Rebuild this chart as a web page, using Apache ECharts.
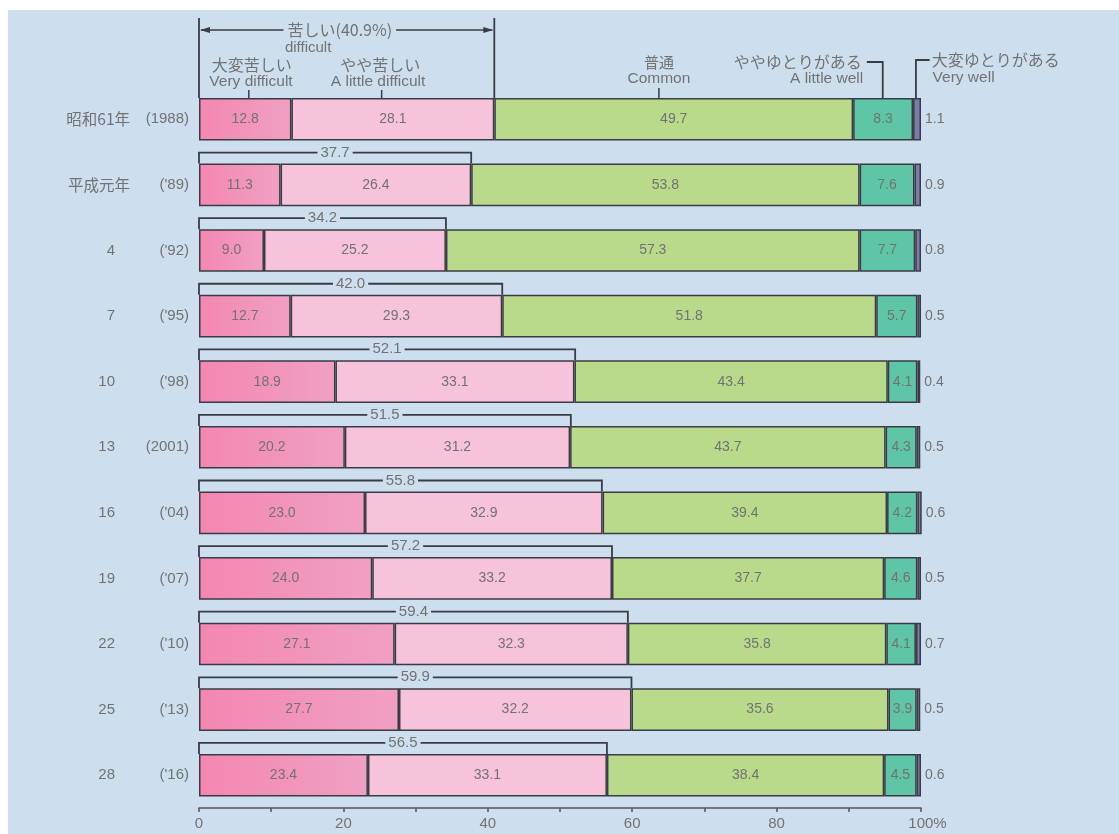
<!DOCTYPE html>
<html>
<head>
<meta charset="utf-8">
<script src="https://cdn.jsdelivr.net/npm/echarts/dist/echarts.min.js"></script>
<style>
html,body{margin:0;padding:0;background:#ffffff;}
#chart{width:1119px;height:834px;}
</style>
</head>
<body>
<div id="chart"></div>
<script>
// ---- data ----
const eraLabels = ['昭和61年','平成元年','4','7','10','13','16','19','22','25','28'];
const yearLabels = ['(1988)',"('89)","('92)","('95)","('98)",'(2001)',"('04)","('07)","('10)","('13)","('16)"];
const veryDifficult   = [12.8, 11.3, 9.0, 12.7, 18.9, 20.2, 23.0, 24.0, 27.1, 27.7, 23.4];
const littleDifficult = [28.1, 26.4, 25.2, 29.3, 33.1, 31.2, 32.9, 33.2, 32.3, 32.2, 33.1];
const common          = [49.7, 53.8, 57.3, 51.8, 43.4, 43.7, 39.4, 37.7, 35.8, 35.6, 38.4];
const littleWell      = [8.3, 7.6, 7.7, 5.7, 4.1, 4.3, 4.2, 4.6, 4.1, 3.9, 4.5];
const veryWell        = [1.1, 0.9, 0.8, 0.5, 0.4, 0.5, 0.6, 0.5, 0.7, 0.5, 0.6];
const difficultTotal  = [40.9, 37.7, 34.2, 42.0, 52.1, 51.5, 55.8, 57.2, 59.4, 59.9, 56.5];
const xTicks = [0, 20, 40, 60, 80, 100];

// ---- styles ----
const BG = '#cddfee';
const LINE = '#3b3b45';
const TXT = '#727272';
const NUMFONT = "'Liberation Sans Narrow','Liberation Sans',Arial,sans-serif";
const CJK = "'Noto Sans CJK JP','Noto Sans',sans-serif";
const ENFONT = "'Liberation Sans',Arial,sans-serif";

const chart = echarts.init(document.getElementById('chart'), null, {renderer:'canvas'});

function barSeries(name, data, color, labelPos) {
  return {
    name: name, type: 'bar', stack: 'all', data: data,
    barCategoryGap: '35%',
    itemStyle: {color: color, borderColor: LINE, borderWidth: 1.5},
    label: {
      show: true, position: labelPos || 'inside',
      distance: 4,
      formatter: p => Number(p.value).toFixed(1),
      color: TXT, fontSize: 14, fontFamily: NUMFONT
    },
    emphasis: {disabled: true},
    z: 2
  };
}

function txt(text, x, y, opt) {
  return {
    type: 'text',
    style: Object.assign({
      text: text, x: x, y: y, fill: TXT,
      fontSize: 15, fontFamily: ENFONT,
      align: 'center', verticalAlign: 'middle'
    }, opt || {})
  };
}
function line(points, w) {
  return {type: 'polyline', shape: {points: points},
          style: {stroke: LINE, lineWidth: w || 1.5, fill: null}};
}

function renderBracket(params, api) {
  const i = api.value(0);
  const total = api.value(1);
  const p0 = api.coord([0, i]);
  const p1 = api.coord([total, i]);
  const bandH = api.size([0, 1])[1];
  const barH = bandH * 0.65;
  const top = p0[1] - barH / 2;
  const children = [];
  if (i > 0) {
    const yl = top - 11;
    children.push(line([[p0[0], top], [p0[0], yl], [p1[0], yl], [p1[0], top]], 1.8));
    children.push(txt(Number(total).toFixed(1), (p0[0] + p1[0]) / 2, yl,
      {fontFamily: NUMFONT, fontSize: 15, backgroundColor: BG, padding: [0, 3]}));
    return {type: 'group', children: children};
  }
  // first row: header annotations
  const X = v => api.coord([v, i])[0];
  const t = top;
  const xl = p0[0], xr = p1[0];
  children.push(line([[xl, t - 80], [xl, t]], 1.8));
  children.push(line([[xr, t - 80], [xr, t]], 1.8));
  children.push(line([[xl + 2, t - 68], [xr - 2, t - 68]], 1.5));
  children.push({type: 'polygon', shape: {points: [[xl + 1, t - 68], [xl + 11, t - 71], [xl + 11, t - 65]]},
                 style: {fill: LINE}});
  children.push({type: 'polygon', shape: {points: [[xr - 1, t - 68], [xr - 11, t - 71], [xr - 11, t - 65]]},
                 style: {fill: LINE}});
  children.push(txt('苦しい(' + Number(total).toFixed(1) + '%)', X(19.5), t - 68,
    {fontFamily: CJK, fontSize: 16, backgroundColor: BG, padding: [0, 4]}));
  children.push(txt('difficult', X(11.9), t - 50, {align: 'left', fontSize: 15}));
  // 大変苦しい
  children.push(txt('大変苦しい', X(7.3), t - 33, {fontFamily: CJK, fontSize: 16}));
  children.push(txt('Very difficult', X(7.2), t - 16, {fontSize: 15.5}));
  children.push(line([[X(6.9), t - 8], [X(6.9), t]], 1.5));
  // やや苦しい
  children.push(txt('やや苦しい', X(25.1), t - 33, {fontFamily: CJK, fontSize: 16}));
  children.push(txt('A little difficult', X(24.8), t - 16, {fontSize: 15.5}));
  children.push(line([[X(25.3), t - 8], [X(25.3), t]], 1.5));
  // 普通
  children.push(txt('普通', X(63.7), t - 36, {fontFamily: CJK, fontSize: 15}));
  children.push(txt('Common', X(63.7), t - 19, {fontSize: 15.5}));
  children.push(line([[X(63.7), t - 10], [X(63.7), t]], 1.5));
  // ややゆとりがある
  children.push(txt('ややゆとりがある', X(91.8), t - 36, {fontFamily: CJK, fontSize: 16, align: 'right'}));
  children.push(txt('A little well', X(92.0), t - 19, {fontSize: 15.5, align: 'right'}));
  children.push(line([[X(92.5), t - 36], [X(94.7), t - 36], [X(94.7), t]], 1.8));
  // 大変ゆとりがある
  children.push(txt('大変ゆとりがある', X(101.5), t - 38, {fontFamily: CJK, fontSize: 16, align: 'left'}));
  children.push(txt('Very well', X(101.6), t - 20, {fontSize: 15.5, align: 'left'}));
  children.push(line([[X(101.2), t - 38], [X(99.3), t - 38], [X(99.3), t]], 1.8));
  return {type: 'group', children: children};
}

const option = {
  backgroundColor: '#ffffff',
  animation: false,
  graphic: [{
    type: 'rect', left: 8, top: 10, z: -10, silent: true,
    shape: {width: 1111, height: 824}, style: {fill: BG}
  }],
  grid: {left: 199, right: 198, top: 86.5, bottom: 26, containLabel: false},
  xAxis: {
    type: 'value', min: 0, max: 100, interval: 10,
    axisLine: {show: true, lineStyle: {color: '#555', width: 1.5}},
    axisTick: {show: true, length: 4, lineStyle: {color: '#555', width: 1.5}},
    splitLine: {show: false},
    axisLabel: {
      margin: 8, color: TXT, fontSize: 15, fontFamily: NUMFONT,
      formatter: v => {
        if (xTicks.indexOf(v) < 0) return '';
        return v === 100 ? '{h|100%}' : String(v);
      },
      rich: {h: {padding: [0, 0, 0, 13], fontSize: 15, fontFamily: NUMFONT, color: TXT}}
    }
  },
  yAxis: {
    type: 'category', inverse: true, data: eraLabels,
    axisLine: {show: false}, axisTick: {show: false},
    axisLabel: {
      margin: 10,
      formatter: (v, idx) => {
        const era = eraLabels[idx];
        const isNum = /^\d+$/.test(era);
        return (isNum ? '{n|' + era + '}{y|' : '{e|' + era + '}{w|') + yearLabels[idx] + '}';
      },
      rich: {
        e: {width: 70, align: 'right', fontSize: 15.5, fontFamily: CJK, color: TXT},
        n: {width: 55, align: 'right', fontSize: 15, fontFamily: NUMFONT, color: TXT},
        w: {width: 59, align: 'right', fontSize: 15, fontFamily: NUMFONT, color: TXT},
        y: {width: 74, align: 'right', fontSize: 15, fontFamily: NUMFONT, color: TXT}
      }
    }
  },
  series: [
    barSeries('大変苦しい', veryDifficult,
      {type: 'linear', x: 0, y: 0, x2: 1, y2: 0,
       colorStops: [{offset: 0, color: '#f487b1'}, {offset: 1, color: '#f0a0c3'}]}),
    barSeries('やや苦しい', littleDifficult, '#f7c3da'),
    barSeries('普通', common, '#b9d98b'),
    barSeries('ややゆとりがある', littleWell, '#5ec5a6'),
    barSeries('大変ゆとりがある', veryWell, '#7c7ca8', 'right'),
    {
      type: 'custom', name: 'brackets', clip: false, z: 5,
      renderItem: renderBracket,
      encode: {x: 1, y: 0},
      data: difficultTotal.map((v, i) => [i, v]),
      silent: true
    }
  ]
};
chart.setOption(option);
</script>
</body>
</html>
